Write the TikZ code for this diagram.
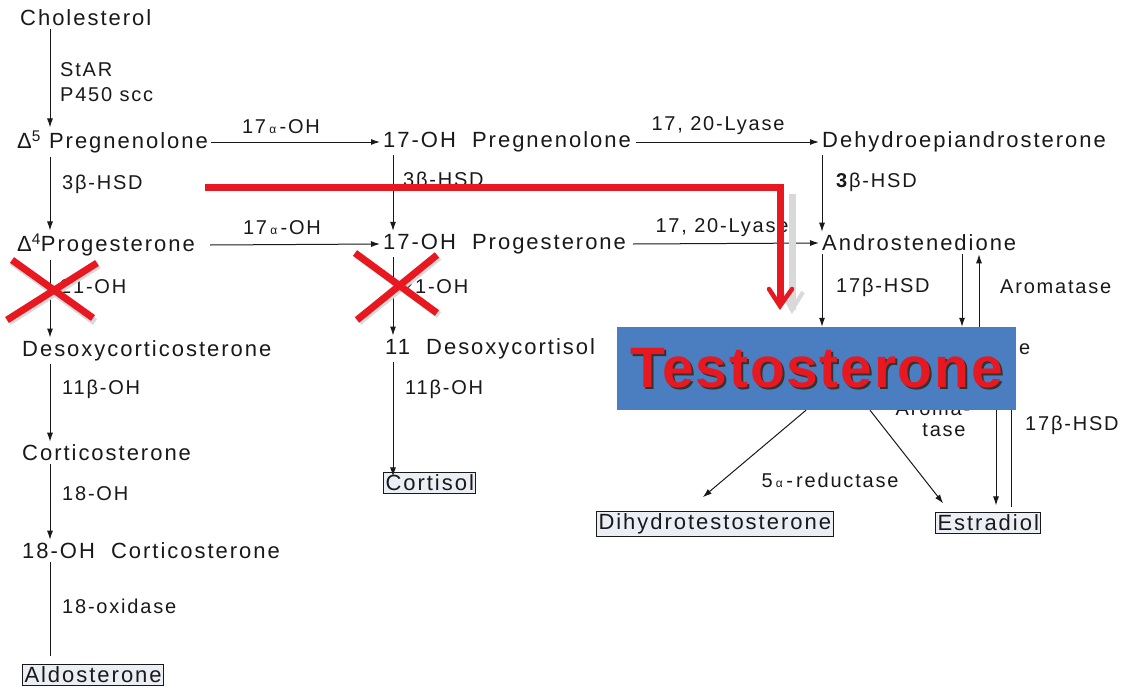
\documentclass[tikz,border=0pt]{standalone}
\usepackage{fontspec}
\setmainfont{Liberation Sans}[LetterSpace=9]
\newfontfamily\testofont{Liberation Sans}[LetterSpace=3]
\usetikzlibrary{arrows.meta}
\definecolor{xred}{RGB}{232,24,32}
\definecolor{boxblue}{RGB}{74,126,192}
\definecolor{boxfill}{RGB}{236,238,246}
\definecolor{ink}{RGB}{25,25,25}
\begin{document}
\begin{tikzpicture}[x=1pt,y=-1pt,
  every node/.style={font=\fontsize{22}{26}\selectfont, text=ink},
  cmp/.style={anchor=west, inner sep=3pt},
  lbl/.style={anchor=west, inner sep=0pt, font=\fontsize{20}{24}\selectfont},
  clbl/.style={inner sep=0pt, font=\fontsize{20}{24}\selectfont},
  arr/.style={-{Latex[length=9pt,width=6pt]}, line width=1pt, ink},
  ln/.style={line width=1pt, ink},
  fin/.style={anchor=west, draw=ink, fill=boxfill, line width=1pt, inner sep=2pt},
  redln/.style={xred, line width=7pt},
  shadowln/.style={gray!30, line width=7pt}]
\useasboundingbox (0,0) rectangle (1124,688);
\fill[white] (0,0) rectangle (1124,688);

% column axes
\coordinate (a1) at (50,0);
\coordinate (a2) at (393,0);
\coordinate (a3) at (822,0);
\coordinate (a4) at (962,0);
\coordinate (a5) at (979,0);
\coordinate (a6) at (996,0);
\coordinate (a7) at (1011,0);
\coordinate (d1) at (806,0);
\coordinate (d2) at (870,0);

% compounds
\node[cmp] (chol) at (17,18) {Cholesterol};
\node[cmp] (preg) at (14,142) {Δ\textsuperscript{5} Pregnenolone};
\node[cmp] (prog) at (14,245) {Δ\textsuperscript{4}Progesterone};
\node[cmp] (doc) at (19,351) {Desoxycorticosterone};
\node[cmp] (cort) at (19,453) {Corticosterone};
\node[cmp] (ohc) at (19,551) {18-OH\ \ Corticosterone};
\node[fin] (aldo) at (22,675) {Aldosterone};
\node[cmp] (ohpreg) at (380,142) {17-OH\ \ Pregnenolone};
\node[cmp] (ohprog) at (380,244) {17-OH\ \ Progesterone};
\node[cmp] (dc) at (382,349) {11\ \ Desoxycortisol};
\node[fin] (cortisol) at (383,483) {Cortisol};
\node[cmp] (dhea) at (819,142) {Dehydroepiandrosterone};
\node[cmp] (andro) at (819,243) {Androstenedione};
\node[fin] (dht) at (596,524) {Dihydrotestosterone};
\node[fin] (estr) at (935,523) {Estradiol};

% labels
\node[lbl] (l1) at (60,70) {StAR};
\node[lbl] (l2) at (60,95) {P450 scc};
\node[lbl] (l3) at (62,184) {3β-HSD};
\node[lbl] (l4) at (60,287) {21-OH};
\node[lbl] (l5) at (62,389) {11β-OH};
\node[lbl] (l6) at (62,494) {18-OH};
\node[lbl] (l7) at (62,606) {18-oxidase};
\node[lbl] (l8) at (403,181) {3β-HSD};
\node[lbl] (l9) at (402,287) {21-OH};
\node[lbl] (l10) at (405,389) {11β-OH};
\node[lbl] (l11) at (836,182) {\textbf{3}β-HSD};
\node[lbl] (l12) at (836,287) {17β-HSD};
\node[lbl] (l13) at (1000,287) {Aromatase};
\node[lbl] (l14) at (1025,425) {17β-HSD};
\node[clbl] (l15) at (281,127) {17\,{\fontsize{12}{12}\selectfont α}\,-OH};
\node[clbl] (l16) at (282,228) {17\,{\fontsize{12}{12}\selectfont α}\,-OH};
\node[clbl] (l17) at (718,126) {17, 20-Lyase};
\node[clbl] (l18) at (722,228) {17, 20-Lyase};
\node[clbl] (l19) at (830,480) {5\,{\fontsize{12}{12}\selectfont α}\,-\,reductase};
\node[clbl] (l20) at (944,430) {tase};
\node[clbl, anchor=base] (l21) at (933,415) {Aroma-};
\node[lbl] (l22) at (1019,349) {e};

% vertical arrows
\draw[arr] (chol.south -| a1) -- (preg.north -| a1);
\draw[arr] (preg.south -| a1) -- (prog.north -| a1);
\draw[arr] (prog.south -| a1) -- (doc.north -| a1);
\draw[arr] (doc.south -| a1) -- (cort.north -| a1);
\draw[arr] (cort.south -| a1) -- (ohc.north -| a1);
\draw[ln] (ohc.south -| a1) -- ([yshift=8pt]aldo.north -| a1);
\draw[arr] (ohpreg.south -| a2) -- (ohprog.north -| a2);
\draw[arr] (ohprog.south -| a2) -- (dc.north -| a2);
\draw[arr] (dc.south -| a2) -- ([yshift=-4pt]cortisol.north -| a2);
\draw[arr] (dhea.south -| a3) -- (andro.north -| a3);

% horizontal arrows
\draw[arr] (preg.east) -- (ohpreg.west);
\draw[arr] ([xshift=12pt]prog.east) -- (ohprog.west);
\draw[arr] ([xshift=2pt]ohpreg.east) -- (dhea.west);
\draw[arr] ([xshift=4pt]ohprog.east) -- (andro.west);

% testosterone box
\node[fill=boxblue, minimum width=399pt, minimum height=83pt, inner sep=0pt] (testo) at (816.5,368.5) {};
\node[text=black!80, font=\testofont\bfseries\fontsize{57}{60}\selectfont] (tshadow) at ([shift={(2,2)}]testo.center) {Testosterone};
\node[text=xred, font=\testofont\bfseries\fontsize{57}{60}\selectfont] (ttext) at (testo.center) {Testosterone};

\draw[arr] (andro.south -| a3) -- (testo.north -| a3);
\draw[arr] (andro.south -| a4) -- (testo.north -| a4);
\draw[arr] (testo.north -| a5) -- (andro.south -| a5);
\draw[arr, shorten >=7pt] (testo.south -| a6) -- (estr.north -| a6);
\draw[ln, shorten <=5pt] (estr.north -| a7) -- (testo.south -| a7);
\draw[arr] (testo.south -| d1) -- ([shift={(-12,-14)}]dht.north);
\draw[arr] (testo.south -| d2) -- ([shift={(-45,-9)}]estr.north);

% red overlay
\draw[shadowln] (12,262) -- (95,322);
\draw[shadowln] (99,265) -- (9,322);
\draw[redln] (12,260) -- (93,318);
\draw[redln] (97,263) -- (7,320);
\draw[shadowln] (357,255) -- (439,315);
\draw[shadowln] (439,257) -- (359,322);
\draw[redln] (355,253) -- (437,313);
\draw[redln] (437,255) -- (357,320);
\draw[shadowln] (792,194) -- (792,310);
\draw[gray!30, line width=4pt] (782,292) -- (792,310) -- (803,292);
\draw[redln] (205,187) -| (780,302);
\draw[xred, line width=4.5pt, line cap=round, line join=miter] (769,289) -- (780,306) -- (792,289);
\end{tikzpicture}
\end{document}
